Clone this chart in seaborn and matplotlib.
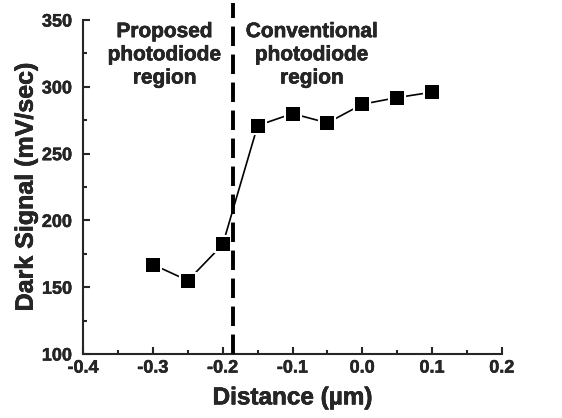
import numpy as np
import pandas as pd
import seaborn as sns
from matplotlib import pyplot as plt
from matplotlib.ticker import MultipleLocator
import matplotlib.patheffects as pe

# Dark signal vs distance
distance = [-0.30, -0.25, -0.20, -0.15, -0.10, -0.05, 0.00, 0.05, 0.10]
dark_signal = [167, 155, 182, 271, 280, 273, 287, 292, 296]
boundary_x = -0.186
x_ticks = [-0.4, -0.3, -0.2, -0.1, 0.0, 0.1, 0.2]
y_ticks = [100, 150, 200, 250, 300, 350]

df = pd.DataFrame({"distance": distance, "dark_signal": dark_signal})

sns.set_style("ticks")
plt.rcParams['font.family'] = ['Liberation Sans', 'DejaVu Sans']
plt.rcParams['font.weight'] = 'bold'

# slight stroke to make text heavier, like the original
heavy = [pe.withStroke(linewidth=0.4, foreground="black")]

fig = plt.figure(figsize=(5.62, 4.18), dpi=100)
ax = fig.add_axes([0.148, 0.153, 0.745, 0.799])

sns.lineplot(x="distance", y="dark_signal", data=df, color="black", linewidth=1.2,
             marker="s", markersize=10, markeredgecolor="white", markeredgewidth=3,
             markerfacecolor="black", ax=ax)
# redraw squares on top
ax.plot(df["distance"], df["dark_signal"], "s", color="black", markersize=9.5,
        markeredgewidth=0, zorder=5)

# dashed boundary between regions
ax.plot([boundary_x, boundary_x], [100, 363], color="black", linewidth=2.8,
        linestyle=(0, (5, 2.2)), clip_on=False, zorder=3)

ax.text(-0.283, 324, "Proposed\nphotodiode\nregion", ha="center", va="center",
        fontsize=15, fontweight="bold", linespacing=1.28, path_effects=heavy)
ax.text(-0.072, 324, "Conventional\nphotodiode\nregion", ha="center", va="center",
        fontsize=15, fontweight="bold", linespacing=1.28, path_effects=heavy)

ax.set_xlim(-0.4, 0.2)
ax.set_ylim(100, 350)
ax.set_xticks(x_ticks)
ax.set_yticks(y_ticks)
ax.set_xticklabels(["%.1f" % v for v in x_ticks])
ax.xaxis.set_minor_locator(MultipleLocator(0.05))
ax.yaxis.set_minor_locator(MultipleLocator(25))
ax.tick_params(which="major", direction="in", length=5, width=1.5, labelsize=13)
ax.tick_params(axis="x", which="major", pad=4)
ax.tick_params(axis="y", which="major", pad=8)
ax.tick_params(which="minor", direction="in", length=3, width=1.5)
for lbl in ax.get_xticklabels() + ax.get_yticklabels():
    lbl.set_fontweight("bold")
    lbl.set_path_effects([pe.withStroke(linewidth=0.3, foreground="black")])

sns.despine(ax=ax)
ax.spines["left"].set_linewidth(1.5)
ax.spines["bottom"].set_linewidth(1.5)

ax.set_xlabel("Distance (\u00b5m)", fontsize=17.5, fontweight="bold", labelpad=7,
              path_effects=heavy)
ax.set_ylabel("Dark Signal (mV/sec)", fontsize=18, fontweight="bold", labelpad=3,
              path_effects=heavy)

plt.savefig("out.png", dpi=100)
